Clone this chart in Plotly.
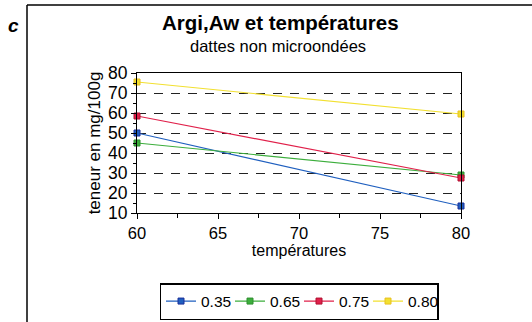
import plotly.graph_objects as go

temperatures = [60, 80]
series_names = ["0.35", "0.65", "0.75", "0.80"]
vals_035 = [50, 13.5]
vals_065 = [45, 29]
vals_075 = [58.5, 27.5]
vals_080 = [75.5, 59.5]
colors = ["#1f5fbf", "#3cae3c", "#e0204a", "#f2e030"]
marker_lines = ["#1a2f9a", "#2f8f2f", "#b01030", "#e8c020"]

W, H = 532, 322
L, R, T, B = 137, 71, 73, 109
pw = W - L - R
ph = H - T - B


def px_x(x):
    return (x - L) / pw


def px_y(y):
    return (H - B - y) / ph


fig = go.Figure()
for name, vals, c, mc in zip(series_names, [vals_035, vals_065, vals_075, vals_080], colors, marker_lines):
    fig.add_trace(go.Scatter(
        x=temperatures, y=vals, name=name, mode="lines+markers",
        line=dict(color=c, width=1.2),
        marker=dict(symbol="square", size=6, color=c, line=dict(color=mc, width=1)),
        cliponaxis=False,
    ))

fig.update_layout(
    width=W, height=H,
    margin=dict(l=L, r=R, t=T, b=B, autoexpand=False),
    paper_bgcolor="white", plot_bgcolor="white",
    font=dict(family="Liberation Sans, Arial, sans-serif", color="black"),
    showlegend=True,
    legend=dict(orientation="h", x=px_x(299), xanchor="center", y=px_y(283), yanchor="top",
                bordercolor="black", borderwidth=1.5, font=dict(size=15.5),
                itemwidth=30, entrywidth=24, entrywidthmode="pixels", tracegroupgap=0),
    annotations=[
        dict(text="<b>Argi,Aw et températures</b>", x=px_x(280), y=px_y(23), xref="paper", yref="paper",
             showarrow=False, font=dict(size=20.5), xanchor="center", yanchor="middle"),
        dict(text="dattes non microondées", x=px_x(278), y=px_y(46), xref="paper", yref="paper",
             showarrow=False, font=dict(size=16.5), xanchor="center", yanchor="middle"),
        dict(text="<b><i>c</i></b>", x=px_x(13), y=px_y(25), xref="paper", yref="paper",
             showarrow=False, font=dict(size=19), xanchor="center", yanchor="middle"),
    ],
)

# frame lines (left and top)
fig.add_shape(type="line", xref="paper", yref="paper",
              x0=px_x(27), x1=px_x(532), y0=px_y(5), y1=px_y(5),
              line=dict(color="black", width=1.5))
fig.add_shape(type="line", xref="paper", yref="paper",
              x0=px_x(27), x1=px_x(27), y0=px_y(5), y1=px_y(322),
              line=dict(color="black", width=1.5))

fig.update_xaxes(
    range=[60, 80], tickvals=[60, 65, 70, 75, 80], ticks="outside", ticklen=5,
    tickcolor="black", showline=True, linecolor="black", linewidth=1.2, mirror=True,
    showgrid=False, zeroline=False, tickfont=dict(size=16.5), automargin=False,
    title=dict(text="températures", font=dict(size=16), standoff=0),
    minor=dict(tickvals=[62.5, 67.5, 72.5, 77.5], ticks="outside", ticklen=4, tickcolor="black"),
)
fig.update_yaxes(
    range=[10, 80], tickvals=[10, 20, 30, 40, 50, 60, 70, 80], ticks="outside", ticklen=5,
    tickcolor="black", showline=True, linecolor="black", linewidth=1.2, mirror=True,
    showgrid=True, gridcolor="#222222", griddash="9px,8px", gridwidth=1.4, zeroline=False,
    tickfont=dict(size=17.5), automargin=False,
    title=dict(text="teneur en mg/100g", font=dict(size=17), standoff=2),
    minor=dict(dtick=5, ticks="outside", ticklen=3, tickcolor="black", showgrid=False),
)

fig.write_html("out.html", config={"displayModeBar": False},
               post_script="document.body.style.margin='0px';")
